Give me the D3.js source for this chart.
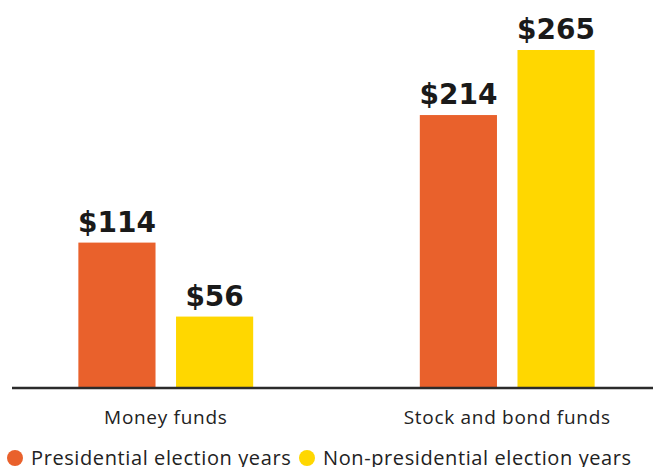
<!DOCTYPE html>
<html>
<head>
<meta charset="utf-8">
<script src="https://d3js.org/d3.v7.min.js"></script>
<style>
  body { margin: 0; background: #fff; }
  svg { display: block; }
  .value-label { font-family: "DejaVu Sans", sans-serif; font-weight: 700; font-size: 28px; fill: #1a1a1a; text-anchor: middle; }
  .cat-axis text { font-family: "Open Sans", sans-serif; font-size: 19px; letter-spacing: 0.7px; fill: #222; }
  .legend text { font-family: "Open Sans", sans-serif; font-size: 20px; letter-spacing: 0.6px; fill: #222; }
</style>
</head>
<body>
<svg id="chart"></svg>
<script>
// fund flows by category, $ billions
const categories = ['Money funds', 'Stock and bond funds'];
const series = ['Presidential election years', 'Non-presidential election years'];
const presidential = [114, 214];
const nonPresidential = [56, 265];
const colors = ['#e9612c', '#ffd700'];

const width = 653, height = 467;
const svg = d3.select('#chart').attr('width', width).attr('height', height);

const baseline = 388;

const x0 = d3.scaleBand()
    .domain(categories)
    .range([-7, 680])
    .paddingInner(0.488)
    .paddingOuter(0.25);

const x1 = d3.scaleBand()
    .domain(series)
    .range([0, x0.bandwidth()])
    .paddingInner(0.21);

const y = d3.scaleLinear()
    .domain([0, 265])
    .range([baseline, 50]);

const rows = categories.map((c, i) => ({
    category: c,
    values: [presidential[i], nonPresidential[i]].map((v, j) => ({ key: series[j], value: v, color: colors[j] }))
}));

const groups = svg.append('g')
    .selectAll('g')
    .data(rows)
    .enter().append('g')
    .attr('transform', d => `translate(${x0(d.category)},0)`);

groups.selectAll('rect')
    .data(d => d.values)
    .enter().append('rect')
    .attr('x', d => x1(d.key))
    .attr('y', d => y(d.value))
    .attr('width', x1.bandwidth())
    .attr('height', d => baseline - y(d.value))
    .attr('fill', d => d.color);

groups.selectAll('text')
    .data(d => d.values)
    .enter().append('text')
    .attr('class', 'value-label')
    .attr('x', d => x1(d.key) + x1.bandwidth() / 2)
    .attr('y', d => y(d.value) - 11)
    .text(d => '$' + d.value);

// category axis
const axis = svg.append('g')
    .attr('class', 'cat-axis')
    .attr('transform', `translate(0,${baseline})`)
    .call(d3.axisBottom(x0).tickSize(0).tickPadding(23));
axis.select('.domain').remove();

svg.append('line')
    .attr('x1', 12).attr('x2', width)
    .attr('y1', baseline).attr('y2', baseline)
    .attr('stroke', '#2b2b2b')
    .attr('stroke-width', 2.5);

// legend
const legendX = [15, 307];
const legend = svg.append('g').attr('class', 'legend');
const item = legend.selectAll('g')
    .data(series)
    .enter().append('g')
    .attr('transform', (d, i) => `translate(${legendX[i]},458)`);
item.append('circle')
    .attr('r', 8)
    .attr('fill', (d, i) => colors[i]);
item.append('text')
    .attr('x', 16)
    .attr('y', 7)
    .text(d => d);
</script>
</body>
</html>
